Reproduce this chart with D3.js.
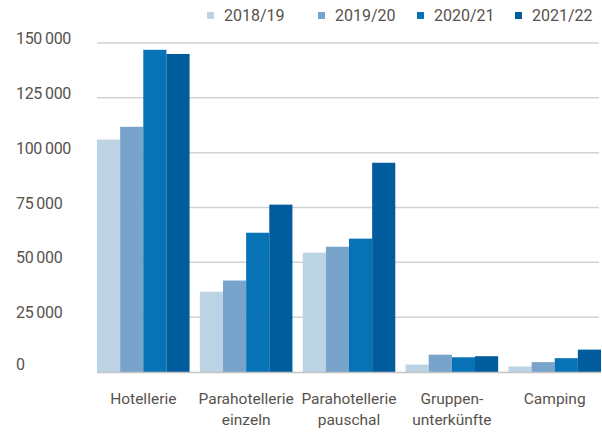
<!DOCTYPE html>
<html>
<head>
<meta charset="utf-8">
<script src="https://cdn.jsdelivr.net/npm/d3@7"></script>
<style>
  html, body { margin: 0; padding: 0; background: #fff; }
  svg { display: block; font-family: Roboto, "Open Sans", sans-serif; }
</style>
</head>
<body>
<div id="chart"></div>
<script>
// Logiernächte nach Beherbergungsart, vier Saisons
const categories = [
  ['Hotellerie'],
  ['Parahotellerie', 'einzeln'],
  ['Parahotellerie', 'pauschal'],
  ['Gruppen-', 'unterkünfte'],
  ['Camping']
];
const seasons = ['2018/19', '2019/20', '2020/21', '2021/22'];
const v2018 = [106000, 36600, 54400, 3400, 2500];
const v2019 = [111800, 41700, 57100, 7900, 4500];
const v2020 = [146900, 63500, 60800, 6700, 6300];
const v2021 = [145000, 76300, 95400, 7200, 10200];
const yTicks = [0, 25000, 50000, 75000, 100000, 125000, 150000];
const colors = ['#bcd3e4', '#78a4cb', '#0872b6', '#005c9c'];

const series = [v2018, v2019, v2020, v2021];

const W = 602, H = 432;
const svg = d3.select('#chart').append('svg').attr('width', W).attr('height', H);

const x0 = d3.scaleBand().domain(d3.range(categories.length)).range([97, 601]).paddingInner(0.1);
const x1 = d3.scaleBand().domain(d3.range(seasons.length)).range([0, x0.bandwidth()]);
const y = d3.scaleLinear().domain([0, 150000]).range([372, 43]);

// Tausender mit schmalem Leerzeichen
const fmt = v => d3.format(',')(v).replace(/,/g, '\u2009');

// grid
svg.append('g').selectAll('line').data(yTicks.filter(t => t > 0)).join('line')
  .attr('x1', 97).attr('x2', 599)
  .attr('y1', d => y(d)).attr('y2', d => y(d))
  .attr('stroke', '#d2d2d2').attr('stroke-width', 1.5);

// y labels
svg.append('g').selectAll('text').data(yTicks).join('text')
  .attr('x', 16).attr('y', d => y(d) + (d ? 1 : -2))
  .attr('font-size', 16).attr('fill', '#57524d')
  .attr('letter-spacing', '-0.02em')
  .text(fmt);

// bars
const groups = svg.append('g').selectAll('g').data(categories).join('g')
  .attr('transform', (d, i) => `translate(${x0(i)},0)`);
groups.selectAll('rect')
  .data((d, i) => series.map((s, j) => ({ j, v: s[i] })))
  .join('rect')
  .attr('x', d => x1(d.j))
  .attr('width', x1.bandwidth())
  .attr('y', d => y(d.v))
  .attr('height', d => y(0) - y(d.v))
  .attr('fill', d => colors[d.j]);

// baseline
svg.append('line')
  .attr('x1', 97).attr('x2', 601).attr('y1', y(0) + 0.5).attr('y2', y(0) + 0.5)
  .attr('stroke', '#c4c4c4').attr('stroke-width', 1.5);

// x labels
const xl = svg.append('g').selectAll('text').data(categories).join('text')
  .attr('x', (d, i) => x0(i) + x0.bandwidth() / 2)
  .attr('y', 404)
  .attr('text-anchor', 'middle')
  .attr('font-size', 15.5).attr('fill', '#57524d');
xl.selectAll('tspan').data(d => d).join('tspan')
  .attr('x', function () { return this.parentNode.getAttribute('x'); })
  .attr('dy', (d, i) => i ? 21 : 0)
  .text(d => d);

// legend
const legX = [207, 318, 417, 515];
const leg = svg.append('g').selectAll('g').data(seasons).join('g')
  .attr('transform', (d, i) => `translate(${legX[i]},0)`);
leg.append('rect').attr('x', 0).attr('y', 12).attr('width', 7).attr('height', 7)
  .attr('fill', (d, i) => colors[i]);
leg.append('text').attr('x', 17).attr('y', 21)
  .attr('font-size', 16).attr('fill', '#57524d')
  .text(d => d);
</script>
</body>
</html>
